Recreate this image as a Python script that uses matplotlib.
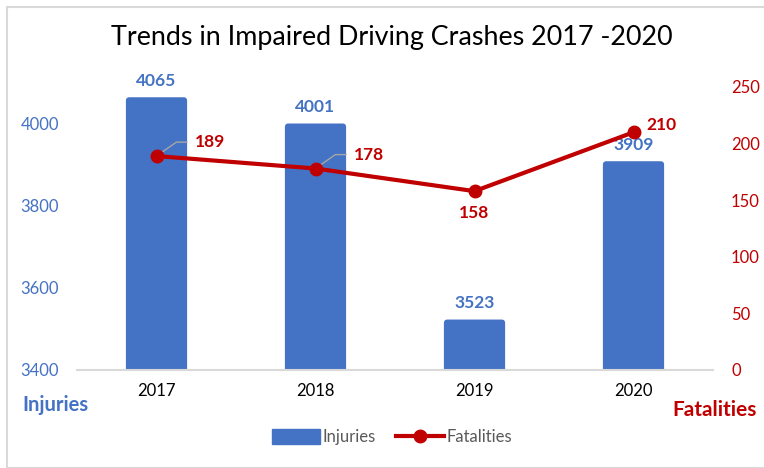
import matplotlib
matplotlib.use("Agg")
import matplotlib.pyplot as plt
from matplotlib.patches import Rectangle, FancyBboxPatch
from matplotlib.lines import Line2D

years = ["2017", "2018", "2019", "2020"]
injuries = [4065, 4001, 3523, 3909]
fatalities = [189, 178, 158, 210]
left_ticks = [3400, 3600, 3800, 4000]
right_ticks = [0, 50, 100, 150, 200, 250]

BLUE = "#4472C4"
RED = "#C00000"
GRAY = "#D9D9D9"
FONT = "Lato"

plt.rcParams["font.family"] = [FONT, "DejaVu Sans"]

W, H = 764, 468
fig = plt.figure(figsize=(W / 100, H / 100), dpi=100)
# figure border
fig.patches.append(Rectangle((7 / W, 0), 1, 1 - 7 / H, transform=fig.transFigure,
                             fill=False, edgecolor=GRAY, linewidth=1.5))

ax_w_px, ax_h_px = 636, 283
ax = fig.add_axes([77 / W, 1 - 370 / H, ax_w_px / W, ax_h_px / H])
x = list(range(len(years)))
ylo, yhi = 3400, 4090
bars = ax.bar(x, injuries, width=0.385, color=BLUE, zorder=2)
ax.set_xlim(-0.5, 3.5)
ax.set_ylim(ylo, yhi)

# rounded top corners
px_per_x = ax_w_px / 4.0
px_per_y = ax_h_px / (yhi - ylo)
aspect = px_per_x / px_per_y
r = 3.5 / px_per_x
for b in bars:
    bx, by = b.get_x(), b.get_y()
    bw, bh = b.get_width(), b.get_height()
    fp = FancyBboxPatch((bx, by), bw, bh,
                        boxstyle=f"round,pad=0,rounding_size={r}",
                        mutation_aspect=aspect, facecolor=BLUE, edgecolor="none", zorder=2)
    b.set_visible(False)
    ax.add_patch(fp)

ax.set_yticks(left_ticks)
ax.set_xticks(x)
ax.set_xticklabels(years)
for s in ["top", "right", "left"]:
    ax.spines[s].set_visible(False)
ax.spines["bottom"].set_color(GRAY)
ax.spines["bottom"].set_linewidth(1.5)
ax.spines["bottom"].set_zorder(3)
ax.tick_params(axis="y", length=0, pad=13, labelcolor=BLUE, labelsize=12)
ax.tick_params(axis="x", length=0, pad=9, labelcolor="black", labelsize=12)

for xi, v in zip(x, injuries):
    ax.annotate(f"{v}", (xi, v), xytext=(0, 6), textcoords="offset points",
                ha="center", va="bottom", color=BLUE, fontsize=12.5, fontweight="bold")

ax2 = ax.twinx()
ax2.plot(x, fatalities, color=RED, linewidth=3, marker="o", markersize=9, zorder=5)
ax2.set_ylim(0, 250)
ax2.set_yticks(right_ticks)
for s in ["top", "right", "left", "bottom"]:
    ax2.spines[s].set_visible(False)
ax2.tick_params(axis="y", length=0, pad=13, labelcolor=RED, labelsize=12)
for lab in ax2.get_yticklabels():
    lab.set_ha("left")

# fatality labels
offsets = [(28, 10), (28, 10), (0, -16), (9, 5)]
leaders = [True, True, False, False]
for xi, v, off, lead in zip(x, fatalities, offsets, leaders):
    if lead:
        ax2.annotate(f"{v}", (xi, v), xytext=off, textcoords="offset points",
                     ha="left", va="center", color=RED, fontsize=12.5, fontweight="bold",
                     arrowprops=dict(arrowstyle="-", color="#A6A6A6", lw=1,
                                     connectionstyle="angle,angleA=0,angleB=35,rad=0",
                                     shrinkA=4, shrinkB=0))
    else:
        ax2.annotate(f"{v}", (xi, v), xytext=off, textcoords="offset points",
                     ha="left" if off[0] > 0 else "center",
                     va="center", color=RED, fontsize=12.5, fontweight="bold")

fig.text(392 / W, 1 - 38 / H, "Trends in Impaired Driving Crashes 2017 -2020",
         ha="center", va="center", fontsize=19.4, color="black")
fig.text(22 / W, 1 - 405 / H, "Injuries", ha="left", va="center",
         fontsize=14.5, fontweight="bold", color=BLUE)
fig.text(757 / W, 1 - 410 / H, "Fatalities", ha="right", va="center",
         fontsize=15, fontweight="bold", color=RED)

handles = [Rectangle((0, 0), 1, 1, color=BLUE),
           Line2D([], [], color=RED, linewidth=3, marker="o", markersize=9)]
fig.legend(handles, ["Injuries", "Fatalities"], loc="center",
           bbox_to_anchor=(392 / W, 1 - 437 / H), ncol=2, frameon=False,
           fontsize=12, labelcolor="#595959", handlelength=2.9, handleheight=1.0,
           handletextpad=0.15, columnspacing=1.2)

fig.savefig("out.png", dpi=100)
